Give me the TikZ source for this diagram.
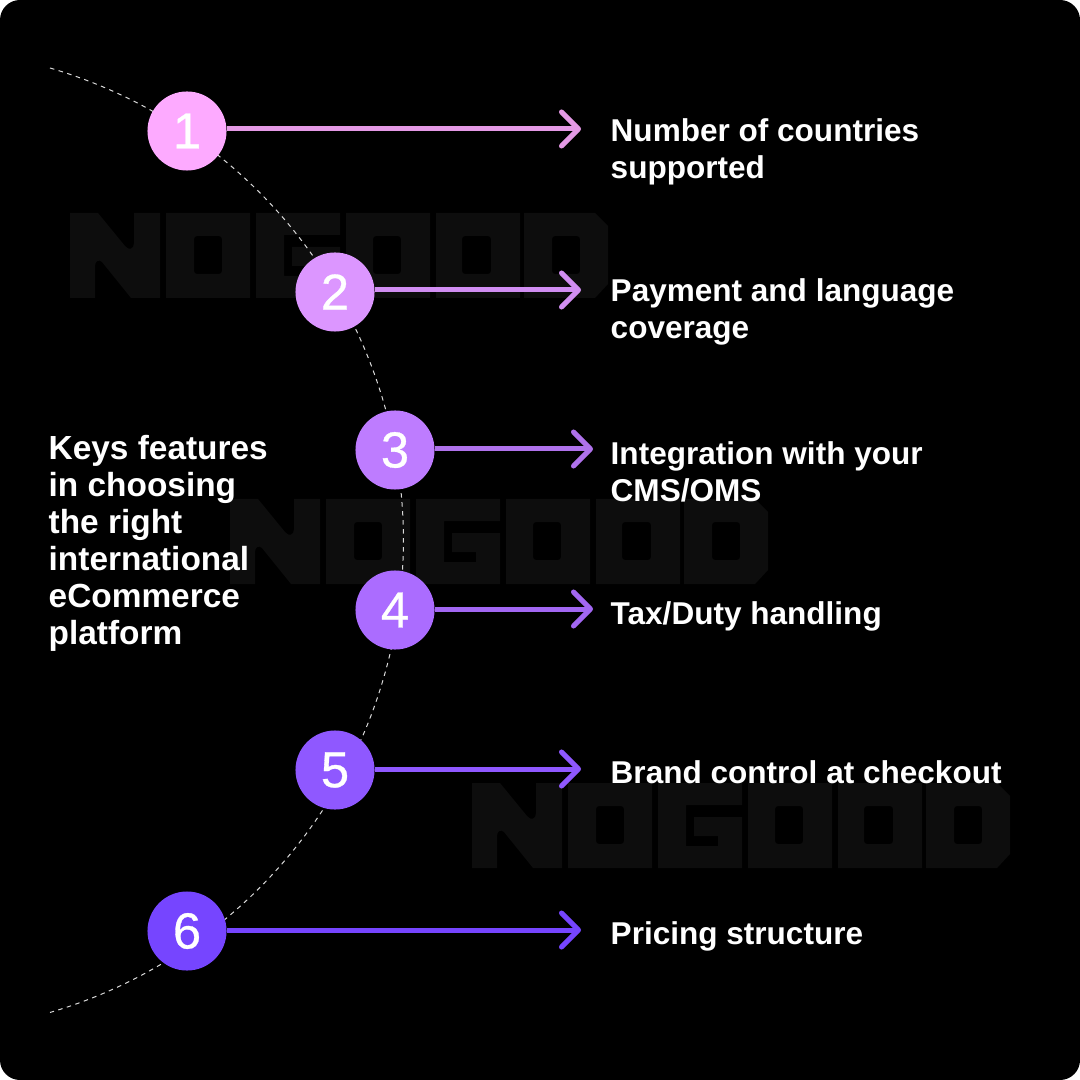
\documentclass[tikz,border=0pt]{standalone}
\usepackage{fontspec}
\setmainfont{Liberation Sans}
\newfontfamily\numfont[FakeBold=0.6]{Liberation Sans}
\usetikzlibrary{arrows.meta,positioning}
\definecolor{logogrey}{HTML}{0D0D0D}
\definecolor{circa}{HTML}{FDAAFF}
\definecolor{circb}{HTML}{DC96FF}
\definecolor{circc}{HTML}{BE7CFF}
\definecolor{circd}{HTML}{AB6CFF}
\definecolor{circe}{HTML}{8F58FF}
\definecolor{circf}{HTML}{7645FF}
\tikzset{
num/.style = {circle, minimum size=0.79cm, inner sep=0pt, text=white, font=\numfont\fontsize{14.4}{15}\selectfont},
item/.style = {anchor=north west, inner sep=0pt, align=left, text=white, font=\fontsize{8.97}{10.5}\selectfont\bfseries},
heading/.style = {item, font=\fontsize{9.5}{10.5}\selectfont\bfseries},
link/.style = {line width=0.05cm, -{Straight Barb[length=0.17cm, width=0.34cm, line width=0.05cm, round]}},
ring/.style = {white!85!black, line width=0.01cm, dash pattern=on 0.045cm off 0.045cm},
logo/.pic = {
  \fill [logogrey, even odd rule]
    (0,0) -- (28,0) -- (55,33) .. controls (59,38) and (64,36) .. (64,30) -- (64,0) -- (90,0) -- (90,85) -- (61,85)
      -- (32,49) .. controls (29,46) and (25,48) .. (25,53) -- (25,85) -- (0,85) -- cycle
    (96,0) rectangle (180,85)
    (186,0) -- (270,0) -- (270,22) -- (214,22) -- (214,63) -- (246,63) -- (246,53) -- (222,53) -- (222,34) -- (270,34) -- (270,85) -- (186,85) -- cycle
    (276,0) rectangle (360,85)
    (366,0) rectangle (450,85)
    (454,0) -- (525,0) -- (538,13) -- (538,71) -- (525,85) -- (454,85) -- cycle
    [rounded corners=0.03cm]
    (124,23) rectangle (152,61)
    (303,23) rectangle (331,61)
    (392,23) rectangle (421,61)
    (482,23) -- (510,23) -- (510,61) -- (482,61) -- cycle;
}
}

\begin{document}
\begin{tikzpicture}[x=0.01cm, y=-0.01cm]
  \useasboundingbox (0,0) rectangle (1080,1080);
  \fill [white] (0,0) rectangle (1080,1080);
  \fill [black, rounded corners=0.2cm] (0,0) rectangle (1080,1080);

  % watermarks
  \pic at (70,213) {logo};
  \pic at (230,499) {logo};
  \pic at (472,783) {logo};

  % dashed curve behind the circles
  \coordinate (ringtop) at (50,68);
  \draw [ring] (ringtop) arc [start angle=73.6, end angle=-73.6, radius=4.92cm];

  \node [num, fill=circa] (num1) at (187,131) {1};
  \node [num, fill=circb] (num2) at (335,292) {2};
  \node [num, fill=circc] (num3) at (395,450) {3};
  \node [num, fill=circd] (num4) at (395,610) {4};
  \node [num, fill=circe] (num5) at (335,770) {5};
  \node [num, fill=circf] (num6) at (187,931) {6};

  \coordinate (tip1) at (581,129);
  \coordinate (tip2) at (581,290);
  \coordinate (tip3) at (593,449);
  \coordinate (tip4) at (593,609);
  \coordinate (tip5) at (581,769);
  \coordinate (tip6) at (581,930);

  \node [item] (item1) at (610,118) {Number of countries\\supported};
  \node [item] (item2) at (610,278) {Payment and language\\coverage};
  \node [item] (item3) at (610,441) {Integration with your\\CMS/OMS};
  \node [item] (item4) at (610,601) {Tax/Duty handling};
  \node [item] (item5) at (610,760) {Brand control at checkout};
  \node [item] (item6) at (610,921) {Pricing structure};
  \node [heading] (title) at (48,435) {Keys features\\in choosing\\the right\\international\\eCommerce\\platform};

  \draw [link, draw=circa!90!black] (num1.east |- tip1) -- (tip1);
  \draw [link, draw=circb!95!black] (num2.east |- tip2) -- (tip2);
  \draw [link, draw=circc!92!black] (num3.east |- tip3) -- (tip3);
  \draw [link, draw=circd!95!black] (num4.east |- tip4) -- (tip4);
  \draw [link, draw=circe] (num5.east |- tip5) -- (tip5);
  \draw [link, draw=circf] (num6.east |- tip6) -- (tip6);
\end{tikzpicture}
\end{document}
